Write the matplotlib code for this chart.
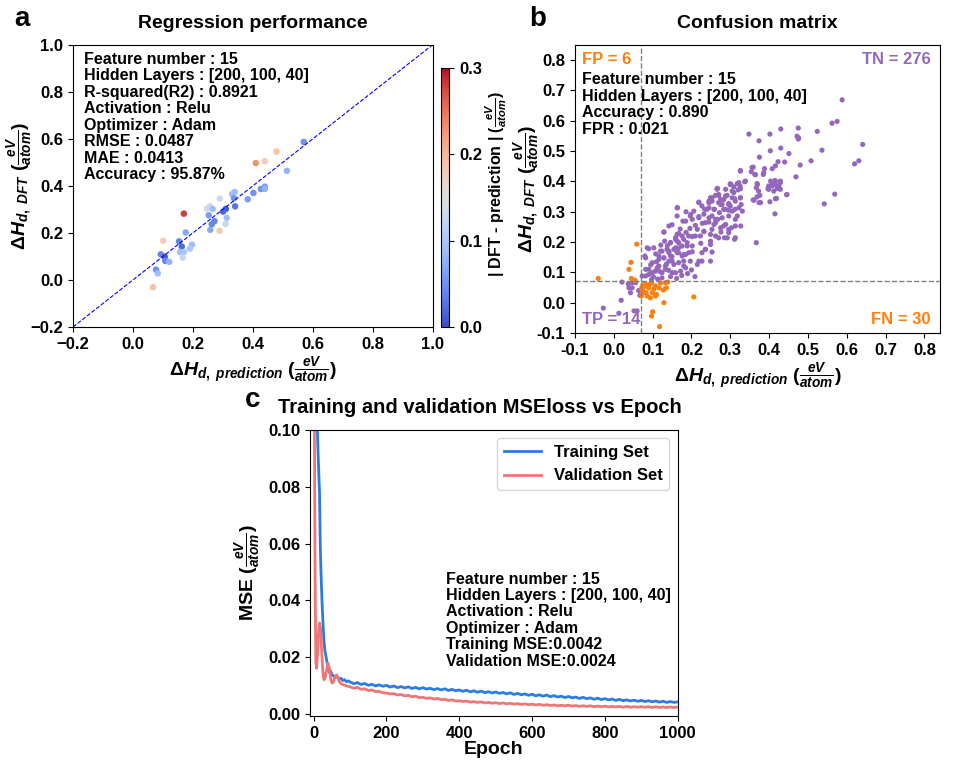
import numpy as np
import matplotlib
matplotlib.use("Agg")
import matplotlib.pyplot as plt

plt.rcParams['font.family'] = ['Liberation Sans', 'DejaVu Sans']
plt.rcParams['font.weight'] = 'bold'
plt.rcParams['axes.labelweight'] = 'bold'
plt.rcParams['axes.titleweight'] = 'bold'
plt.rcParams['mathtext.fontset'] = 'custom'
plt.rcParams['mathtext.rm'] = 'Liberation Sans:bold'
plt.rcParams['mathtext.it'] = 'Liberation Sans:bold:italic'
plt.rcParams['mathtext.bf'] = 'Liberation Sans:bold'

# ---- panel a: regression (prediction, DFT, |error| colour) ----
reg_pred = [0.570, 0.479, 0.440, 0.410, 0.514, 0.440, 0.427, 0.440, 0.402, 0.383,
            0.340, 0.331, 0.337, 0.341, 0.290, 0.257, 0.247, 0.266, 0.310, 0.301,
            0.253, 0.313, 0.309, 0.272, 0.263, 0.258, 0.289, 0.170, 0.176, 0.101,
            0.154, 0.163, 0.157, 0.170, 0.197, 0.190, 0.166, 0.093, 0.106, 0.108,
            0.121, 0.077, 0.083, 0.067]
reg_dft = [0.587, 0.546, 0.505, 0.497, 0.464, 0.397, 0.387, 0.387, 0.370, 0.343,
           0.374, 0.365, 0.347, 0.313, 0.346, 0.313, 0.303, 0.302, 0.302, 0.291,
           0.275, 0.264, 0.238, 0.250, 0.237, 0.213, 0.209, 0.282, 0.202, 0.167,
           0.164, 0.142, 0.119, 0.119, 0.150, 0.133, 0.095, 0.109, 0.099, 0.081,
           0.077, 0.044, 0.028, -0.031]
reg_err = [0.05, 0.19, 0.18, 0.23, 0.08, 0.06, 0.05, 0.08, 0.05, 0.06,
           0.09, 0.09, 0.05, 0.03, 0.13, 0.13, 0.14, 0.09, 0.01, 0.02,
           0.06, 0.09, 0.13, 0.04, 0.04, 0.07, 0.18, 0.28, 0.07, 0.18,
           0.04, 0.02, 0.09, 0.10, 0.09, 0.10, 0.13, 0.04, 0.01, 0.04,
           0.08, 0.05, 0.09, 0.19]

# ---- panel b: confusion matrix points (prediction, DFT) ----
tn_points = [
    (0.588, 0.669), (0.575, 0.598), (0.562, 0.592), (0.475, 0.576), (0.430, 0.573),
    (0.402, 0.556), (0.348, 0.556), (0.524, 0.565), (0.472, 0.549), (0.475, 0.540),
    (0.374, 0.534), (0.641, 0.522), (0.536, 0.503), (0.430, 0.510), (0.403, 0.501),
    (0.451, 0.492), (0.375, 0.480), (0.631, 0.468), (0.620, 0.458), (0.508, 0.468),
    (0.480, 0.454), (0.423, 0.465), (0.440, 0.464), (0.416, 0.451), (0.408, 0.442),
    (0.388, 0.442), (0.356, 0.446), (0.363, 0.423), (0.385, 0.423), (0.326, 0.434),
    (0.469, 0.415), (0.416, 0.401), (0.429, 0.396), (0.409, 0.396), (0.399, 0.385),
    (0.421, 0.377), (0.397, 0.376), (0.370, 0.390), (0.367, 0.379), (0.337, 0.399),
    (0.302, 0.390), (0.325, 0.385), (0.320, 0.372), (0.267, 0.377), (0.376, 0.354),
    (0.445, 0.356), (0.569, 0.358), (0.542, 0.326), (0.419, 0.344), (0.402, 0.333),
    (0.359, 0.339), (0.374, 0.330), (0.415, 0.293), (0.367, 0.198),
    (0.288, 0.352), (0.262, 0.354), (0.275, 0.341), (0.253, 0.335), (0.296, 0.327),
    (0.279, 0.324), (0.311, 0.343), (0.326, 0.346), (0.328, 0.324), (0.312, 0.308),
    (0.331, 0.302), (0.219, 0.330), (0.234, 0.308), (0.245, 0.313), (0.259, 0.308),
    (0.296, 0.305), (0.253, 0.286), (0.268, 0.275), (0.219, 0.280), (0.197, 0.286),
    (0.202, 0.275), (0.164, 0.313), (0.178, 0.269), (0.150, 0.257), (0.245, 0.266),
    (0.262, 0.264), (0.283, 0.253), (0.303, 0.247), (0.327, 0.253), (0.296, 0.231),
    (0.311, 0.209), (0.285, 0.214), (0.262, 0.220), (0.276, 0.233), (0.232, 0.234),
    (0.210, 0.220), (0.249, 0.203), (0.236, 0.176), (0.253, 0.167), (0.227, 0.137),
    (0.215, 0.126), (0.209, 0.086), (0.288, 0.308), (0.272, 0.297), (0.318, 0.286),
    (0.266, 0.376), (0.300, 0.390), (0.318, 0.393), (0.219, 0.332), (0.249, 0.346),
    (0.270, 0.357), (0.288, 0.351), (0.309, 0.363), (0.245, 0.330), (0.270, 0.330),
    (0.296, 0.324), (0.313, 0.335), (0.163, 0.313), (0.240, 0.308), (0.258, 0.308),
    (0.283, 0.308), (0.305, 0.302), (0.198, 0.291), (0.219, 0.284), (0.163, 0.286),
    (0.185, 0.269), (0.245, 0.280), (0.262, 0.275), (0.279, 0.280), (0.296, 0.286),
    (0.313, 0.275), (0.236, 0.264), (0.258, 0.258), (0.288, 0.258), (0.313, 0.253),
    (0.142, 0.253), (0.215, 0.242), (0.232, 0.236), (0.253, 0.242), (0.275, 0.247),
    (0.296, 0.242), (0.129, 0.233), (0.167, 0.228), (0.202, 0.218), (0.223, 0.220),
    (0.249, 0.225), (0.270, 0.214), (0.292, 0.214), (0.313, 0.214), (0.159, 0.214),
    (0.180, 0.209), (0.131, 0.203), (0.146, 0.198), (0.167, 0.198), (0.189, 0.187),
    (0.236, 0.176), (0.249, 0.192), (0.090, 0.178), (0.103, 0.181), (0.124, 0.170),
    (0.142, 0.170), (0.163, 0.165), (0.180, 0.159), (0.080, 0.154), (0.116, 0.154),
    (0.150, 0.152), (0.359, 0.447), (0.354, 0.432), (0.326, 0.436), (0.365, 0.422),
    (0.386, 0.429), (0.339, 0.401), (0.369, 0.393), (0.404, 0.401), (0.415, 0.403),
    (0.429, 0.401), (0.416, 0.390), (0.425, 0.385), (0.408, 0.385), (0.399, 0.374),
    (0.412, 0.368), (0.429, 0.374), (0.300, 0.392), (0.322, 0.396), (0.309, 0.382),
    (0.288, 0.374), (0.266, 0.374), (0.305, 0.368), (0.326, 0.376), (0.373, 0.368),
    (0.369, 0.349), (0.270, 0.354), (0.292, 0.354), (0.305, 0.346), (0.326, 0.346),
    (0.253, 0.346), (0.245, 0.335), (0.283, 0.340), (0.275, 0.324), (0.300, 0.319),
    (0.322, 0.313), (0.361, 0.338), (0.378, 0.330), (0.416, 0.343), (0.446, 0.357),
    (0.227, 0.319), (0.476, 0.543),
    (0.129, 0.233), (0.163, 0.225), (0.163, 0.203), (0.146, 0.198), (0.176, 0.187),
    (0.159, 0.181), (0.137, 0.176), (0.120, 0.170), (0.167, 0.165), (0.185, 0.159),
    (0.146, 0.154), (0.129, 0.148), (0.116, 0.143), (0.099, 0.132), (0.082, 0.148),
    (0.086, 0.181), (0.112, 0.115), (0.133, 0.121), (0.155, 0.126), (0.167, 0.132),
    (0.180, 0.137), (0.142, 0.137), (0.107, 0.104), (0.082, 0.110), (0.090, 0.093),
    (0.124, 0.099), (0.150, 0.099), (0.172, 0.104), (0.185, 0.115), (0.073, 0.088),
    (0.159, 0.209), (0.176, 0.220), (0.189, 0.198), (0.167, 0.181), (0.142, 0.165),
    (0.129, 0.148), (0.150, 0.137), (0.176, 0.154), (0.193, 0.165), (0.116, 0.121),
    (0.133, 0.110), (0.099, 0.099), (0.159, 0.099), (0.180, 0.121), (0.197, 0.137),
    (0.090, 0.110), (0.082, 0.088), (0.219, 0.137), (0.227, 0.165), (0.249, 0.137),
    (0.193, 0.220), (0.202, 0.187), (0.138, 0.188), (0.155, 0.176), (0.121, 0.190),
    (0.108, 0.161), (0.196, 0.245), (0.186, 0.232), (0.171, 0.243), (0.210, 0.255),
    (0.228, 0.262), (0.206, 0.302), (0.186, 0.300), (0.232, 0.292), (0.224, 0.196),
    (0.202, 0.168), (0.095, 0.125), (0.110, 0.135), (0.136, 0.128), (0.102, 0.085),
    (0.124, 0.082), (0.146, 0.086), (0.162, 0.080), (0.190, 0.096), (0.175, 0.090),
    (0.200, 0.108), (0.141, 0.107), (0.118, 0.103), (0.097, 0.076), (0.113, 0.078),
]
fp_points = [(-0.040, 0.080), (0.039, 0.110), (0.044, 0.133), (0.045, 0.080),
             (0.059, 0.193), (0.055, 0.074)]
tp_points = [(-0.027, -0.018), (0.019, 0.008), (0.013, -0.035), (0.043, 0.033),
             (0.021, 0.068), (0.037, 0.062), (0.047, 0.049), (0.052, -0.027),
             (0.060, -0.027), (0.064, 0.040), (0.067, 0.024), (0.056, 0.066),
             (0.039, 0.049), (0.047, 0.066)]
fn_points = [(0.082, 0.055), (0.073, 0.046), (0.090, 0.049), (0.077, 0.033), (0.086, 0.022),
             (0.099, 0.033), (0.107, 0.055), (0.116, 0.049), (0.127, 0.042), (0.135, 0.049),
             (0.139, 0.068), (0.120, 0.065), (0.097, 0.065), (0.075, 0.060), (0.071, 0.022),
             (0.083, 0.033), (0.094, 0.016), (0.110, 0.027), (0.103, 0.044), (0.090, 0.060),
             (0.129, 0.000), (0.206, 0.019), (0.100, -0.030), (0.097, -0.044), (0.118, -0.079),
             (0.080, 0.063), (0.075, 0.038), (0.107, 0.022), (0.133, 0.066), (0.072, 0.049)]
threshold = 0.07

# ---- panel c: loss curves ----
early_epoch_train = [0, 5, 9, 12, 14, 16, 18, 20, 23, 26, 28, 31, 34, 37, 40, 43, 46, 50,
                     55, 60, 65, 70, 75, 80, 85, 90, 95]
early_train = [0.25, 0.16, 0.105, 0.092, 0.085, 0.078, 0.060, 0.050, 0.039, 0.031, 0.026,
               0.022, 0.020, 0.018, 0.016, 0.0145, 0.0152, 0.0138, 0.0132, 0.0128, 0.0131,
               0.0122, 0.0125, 0.0117, 0.0120, 0.0113, 0.0116]
early_epoch_val = [0, 2, 4, 6, 8, 10, 13, 16, 19, 22, 25, 28, 31, 35, 39, 43, 47, 51,
                   55, 59, 63, 67, 71, 76, 81, 86, 91, 96]
early_val = [0.20, 0.10, 0.045, 0.018, 0.016, 0.020, 0.028, 0.032, 0.030, 0.022, 0.015,
             0.012, 0.0125, 0.015, 0.0178, 0.016, 0.012, 0.0108, 0.0115, 0.0133, 0.0137,
             0.0125, 0.0112, 0.0105, 0.0103, 0.0100, 0.0098, 0.0096]
late_epoch = list(range(100, 1001, 10))
late_train = [0.0112, 0.0106, 0.0110, 0.0103, 0.0107, 0.0100, 0.0104, 0.0098, 0.0102, 0.0097,
              0.0100, 0.0094, 0.0098, 0.0092, 0.0096, 0.0091, 0.0095, 0.0089, 0.0093, 0.0088,
              0.0092, 0.0087, 0.0090, 0.0085, 0.0089, 0.0084, 0.0088, 0.0082, 0.0086, 0.0081,
              0.0084, 0.0079, 0.0083, 0.0077, 0.0081, 0.0076, 0.0080, 0.0074, 0.0078, 0.0073,
              0.0077, 0.0072, 0.0075, 0.0070, 0.0074, 0.0068, 0.0072, 0.0067, 0.0070, 0.0065,
              0.0069, 0.0063, 0.0067, 0.0062, 0.0066, 0.0060, 0.0064, 0.0059, 0.0062, 0.0057,
              0.0061, 0.0056, 0.0059, 0.0054, 0.0058, 0.0053, 0.0056, 0.0051, 0.0055, 0.0050,
              0.0053, 0.0049, 0.0052, 0.0047, 0.0051, 0.0046, 0.0049, 0.0045, 0.0048, 0.0044,
              0.0047, 0.0043, 0.0046, 0.0042, 0.0045, 0.0041, 0.0044, 0.0040, 0.0043, 0.0040,
              0.0042]
late_val = [0.0095, 0.0090, 0.0093, 0.0086, 0.0088, 0.0082, 0.0084, 0.0078, 0.0079, 0.0074,
            0.0073, 0.0070, 0.0071, 0.0066, 0.0068, 0.0063, 0.0065, 0.0060, 0.0062, 0.0057,
            0.0058, 0.0054, 0.0056, 0.0052, 0.0054, 0.0050, 0.0051, 0.0047, 0.0049, 0.0045,
            0.0046, 0.0043, 0.0045, 0.0041, 0.0043, 0.0040, 0.0042, 0.0038, 0.0040, 0.0037,
            0.0039, 0.0036, 0.0038, 0.0035, 0.0037, 0.0034, 0.0036, 0.0033, 0.0035, 0.0032,
            0.0034, 0.0031, 0.0033, 0.0030, 0.0032, 0.0029, 0.0031, 0.0028, 0.0030, 0.0028,
            0.0030, 0.0027, 0.0029, 0.0026, 0.0028, 0.0026, 0.0028, 0.0025, 0.0027, 0.0025,
            0.0027, 0.0024, 0.0026, 0.0024, 0.0026, 0.0023, 0.0026, 0.0023, 0.0025, 0.0023,
            0.0025, 0.0023, 0.0025, 0.0022, 0.0025, 0.0022, 0.0024, 0.0022, 0.0024, 0.0022,
            0.0024]

purple = '#9467bd'
orange = '#ff7f0e'
frac = r'($\frac{eV}{atom}$)'
ls = 1.12

fig = plt.figure(figsize=(9.54, 7.73), dpi=100)

# panel a
ax1 = fig.add_axes([0.0765, 0.577, 0.377, 0.365])
sc = ax1.scatter(reg_pred, reg_dft, c=reg_err, cmap='coolwarm', vmin=0, vmax=0.3,
                 s=22, edgecolors='none')
ax1.plot([-0.2, 1.0], [-0.2, 1.0], 'b--', lw=0.8)
ax1.set_xlim(-0.2, 1.0)
ax1.set_ylim(-0.2, 1.0)
ax1.set_xticks(np.arange(-0.2, 1.01, 0.2))
ax1.set_yticks(np.arange(-0.2, 1.01, 0.2))
ax1.tick_params(labelsize=12)
ax1.set_xlabel(r'$\Delta H_{d,\ prediction}$ ' + frac, fontsize=14, labelpad=2)
ax1.set_ylabel(r'$\Delta H_{d,\ DFT}$ ' + frac, fontsize=14, labelpad=-3)
ax1.set_title('Regression performance', fontsize=14, pad=12)
ax1.text(0.03, 0.975, 'Feature number : 15\nHidden Layers : [200, 100, 40]\n'
         'R-squared(R2) : 0.8921\nActivation : Relu\nOptimizer : Adam\n'
         'RMSE : 0.0487\nMAE : 0.0413\nAccuracy : 95.87%',
         transform=ax1.transAxes, va='top', ha='left', fontsize=11.5, linespacing=ls)
cax = fig.add_axes([0.4625, 0.577, 0.0085, 0.335])
cb = fig.colorbar(sc, cax=cax, ticks=[0.0, 0.1, 0.2, 0.3])
cb.ax.tick_params(labelsize=12)
cb.set_label('| DFT - prediction | ' + frac, fontsize=11.5)
cb.ax.yaxis.set_label_coords(5.3, 0.55)

# panel b
ax2 = fig.add_axes([0.6027, 0.5692, 0.3826, 0.3726])
tn = np.array(tn_points)
fp = np.array(fp_points)
tp = np.array(tp_points)
fn = np.array(fn_points)
ax2.scatter(tn[:, 0], tn[:, 1], color=purple, s=14, edgecolors='none')
ax2.scatter(tp[:, 0], tp[:, 1], color=purple, s=14, edgecolors='none')
ax2.scatter(fp[:, 0], fp[:, 1], color=orange, s=14, edgecolors='none')
ax2.scatter(fn[:, 0], fn[:, 1], color=orange, s=14, edgecolors='none')
ax2.axvline(threshold, color='gray', ls='--', lw=1)
ax2.axhline(threshold, color='gray', ls='--', lw=1)
ax2.set_xlim(-0.1, 0.84)
ax2.set_ylim(-0.1, 0.85)
ax2.set_xticks(np.arange(-0.1, 0.81, 0.1))
ax2.set_yticks(np.arange(-0.1, 0.81, 0.1))
ax2.xaxis.set_major_formatter(matplotlib.ticker.FormatStrFormatter('%.1f'))
ax2.yaxis.set_major_formatter(matplotlib.ticker.FormatStrFormatter('%.1f'))
ax2.tick_params(labelsize=12)
ax2.set_xlabel(r'$\Delta H_{d,\ prediction}$ ' + frac, fontsize=14, labelpad=2)
ax2.set_ylabel(r'$\Delta H_{d,\ DFT}$ ' + frac, fontsize=14, labelpad=-4)
ax2.set_title('Confusion matrix', fontsize=14, pad=12)
ax2.text(0.02, 0.975, 'FP = 6', color=orange, transform=ax2.transAxes, va='top', fontsize=12)
ax2.text(0.975, 0.975, 'TN = 276', color=purple, transform=ax2.transAxes, va='top',
         ha='right', fontsize=12)
ax2.text(0.02, 0.02, 'TP = 14', color=purple, transform=ax2.transAxes, va='bottom', fontsize=12)
ax2.text(0.975, 0.02, 'FN = 30', color=orange, transform=ax2.transAxes, va='bottom',
         ha='right', fontsize=12)
ax2.text(0.02, 0.905, 'Feature number : 15\nHidden Layers : [200, 100, 40]\n'
         'Accuracy : 0.890\nFPR : 0.021', transform=ax2.transAxes, va='top',
         fontsize=11.5, linespacing=ls)

# panel c
ax3 = fig.add_axes([0.325, 0.0737, 0.3854, 0.370])
ax3.plot(early_epoch_train + late_epoch, early_train + late_train, color='#2b7be4',
         lw=2, label='Training Set')
ax3.plot(early_epoch_val + late_epoch, early_val + late_val, color='#f07575',
         lw=2, label='Validation Set')
ax3.set_xlim(-10, 1000)
ax3.set_ylim(-0.0008, 0.1)
ax3.set_xticks(np.arange(0, 1001, 200))
ax3.set_yticks(np.arange(0, 0.101, 0.02))
ax3.yaxis.set_major_formatter(matplotlib.ticker.FormatStrFormatter('%.2f'))
ax3.tick_params(labelsize=12)
ax3.set_xlabel('Epoch', fontsize=14, labelpad=0)
ax3.set_ylabel('MSE ' + frac, fontsize=14)
ax3.legend(loc='upper right', fontsize=12, handlelength=2.2)
ax3.text(0.37, 0.505, 'Feature number : 15\nHidden Layers : [200, 100, 40]\n'
         'Activation : Relu\nOptimizer : Adam\nTraining MSE:0.0042\nValidation MSE:0.0024',
         transform=ax3.transAxes, va='top', fontsize=11.5, linespacing=ls)

fig.text(0.503, 0.473, 'Training and validation MSEloss vs Epoch', ha='center',
         va='center', fontsize=14.5, fontweight='bold')
fig.text(0.015, 0.975, 'a', fontsize=20, fontweight='bold', va='center')
fig.text(0.555, 0.975, 'b', fontsize=20, fontweight='bold', va='center')
fig.text(0.257, 0.482, 'c', fontsize=20, fontweight='bold', va='center')

fig.savefig('out.png', dpi=100)
